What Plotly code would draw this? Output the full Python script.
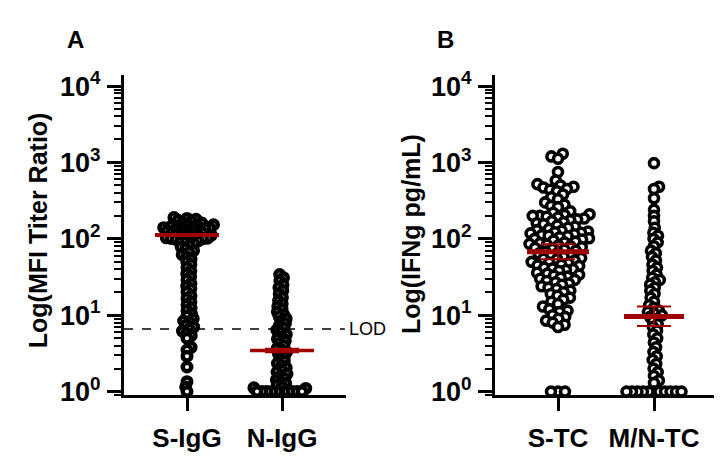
import numpy as np
import plotly.graph_objects as go

W, H = 722, 458

# ---------------- data ----------------
cats_a = ["S-IgG", "N-IgG"]
cats_b = ["S-TC", "M/N-TC"]

s_igg = [190, 185, 180, 175, 170, 165, 161, 157, 153, 150,
         148, 146, 144, 142, 140, 138, 136, 134, 132, 130, 128, 126, 124, 122, 120,
         118, 116, 114, 112, 110, 108, 106, 104, 103, 102, 101, 100,
         98, 96, 94, 92, 90,
         86, 82, 78, 74, 70, 66, 62, 58, 54, 50, 46, 42,
         38, 35, 32, 29, 26, 24, 22, 20, 18, 16.5, 15, 13.7, 12.5, 11.5, 10.5, 9.8,
         9.0, 8.4, 8.0, 7.4, 7.0, 6.6, 6.2, 5.8, 5.4, 5.0, 3.8, 3.5, 2.9, 2.1, 1.35,
         1.15, 1.0]

n_igg = [34, 31, 28, 25, 23, 21, 19, 17, 15.5, 14, 13, 12, 11, 10.3, 9.6, 9.0, 8.4,
         7.8, 7.3, 6.8, 6.4, 6.0, 5.6, 5.2, 4.9, 4.6, 4.3, 4.0, 3.7, 3.5, 3.3, 3.1,
         2.9, 2.7, 2.5, 2.35, 2.2, 2.05, 1.9, 1.8, 1.7, 1.6, 1.5, 1.42, 1.35, 1.28,
         1.22, 1.16, 1.12, 1.1,
         1, 1, 1, 1, 1, 1, 1, 1, 1, 1]

s_tc = [1300, 1200, 1120, 750,
        580, 520, 500, 480, 470, 450, 440, 420,
        380, 350, 330, 300, 280, 270, 260,
        230, 220, 210, 205, 200, 200, 195, 190, 185, 180, 175, 170, 165, 160, 155, 150,
        145, 140, 135, 130, 128, 125, 122, 120, 118, 115, 112, 110, 108, 105, 102, 100,
        98, 95, 92, 90, 88, 86, 84, 82, 80, 78, 76, 74, 72, 70, 68, 66, 64, 62, 60,
        58, 56, 55, 54, 52, 50, 49, 48, 46, 45, 44, 42, 41, 40, 39, 38, 36, 35, 34,
        33, 32, 31, 30, 29, 28, 27, 26, 25, 24, 23, 22, 21, 20,
        19, 18, 17, 16, 15, 14, 13, 12, 11.5, 11,
        10, 9.5, 9, 8.5, 8, 7.5, 7,
        1, 1, 1]

mn_tc = [980, 480, 450, 340, 240, 200, 170, 140, 120, 110, 100, 90, 80, 70, 65, 58,
         52, 46, 42, 38, 34, 31, 29, 27, 25, 23, 21, 19, 17, 15, 13.5, 12.5, 11.5, 11,
         10.5, 10, 9.5, 9, 8.3, 7.6, 7.0, 6.3, 5.6, 5.0, 4.4, 3.8, 3.3, 2.9, 2.6, 2.3,
         2.0, 1.8, 1.6, 1.4, 1.3,
         1, 1, 1, 1, 1, 1, 1, 1, 1, 1, 1]

# summary lines: centre, lower, upper
sum_a = {"S-IgG": (112, 110, 114), "N-IgG": (3.45, 3.27, 3.65)}
sum_b = {"S-TC": (68, 54, 85), "M/N-TC": (9.6, 7.2, 13)}
lod_value = 6.6

ytick_vals = [1, 10, 100, 1000, 10000]
ytick_text = ["10<sup>0</sup>", "10<sup>1</sup>", "10<sup>2</sup>", "10<sup>3</sup>", "10<sup>4</sup>"]

# ---------------- layout geometry (pixels) ----------------
PPD = 79.5            # pixels per decade
Y_TOP, Y_BOT = 62, 396
A_L, A_R, A_C0, A_SP = 116, 338, 179, 95
B_L, B_R, B_C0, B_SP = 487, 708, 550, 96
yr = [-(Y_BOT - 392) / PPD, 4 + (74 - Y_TOP) / PPD]


def swarm(vals, d):
    ys = np.log10(np.asarray(vals, float)) * PPD
    order = np.argsort(ys, kind="stable")
    placed = []
    xs = np.zeros(len(ys))
    for k, i in enumerate(order):
        y = ys[i]
        near = [(px, py) for px, py in placed if abs(py - y) < d]
        cands = [0.0]
        for px, py in near:
            dx = np.sqrt(d * d - (py - y) ** 2)
            cands += [px + dx, px - dx]
        sgn = 1 if k % 2 == 0 else -1
        cands.sort(key=lambda c: (round(abs(c), 3), -sgn * c))
        x = 0.0
        for c in cands:
            if all((c - px) ** 2 + (y - py) ** 2 >= d * d - 1e-6 for px, py in near):
                x = c
                break
        placed.append((x, y))
        xs[i] = x
    return xs


FONT = "Liberation Sans, Arial, sans-serif"
RED = "#A00000"
fig = go.Figure()


def add_group(vals, pos, sp, d, xa, ya, msize, lw):
    off = swarm(vals, d) / sp
    fig.add_trace(go.Scatter(
        x=pos + off, y=vals, mode="markers", xaxis=xa, yaxis=ya,
        cliponaxis=False, showlegend=False, hoverinfo="skip",
        marker=dict(symbol="circle", size=msize, color="white",
                    line=dict(color="black", width=lw))))


def add_summary(stats, pos, sp, xa, ya, half_px, lw):
    c, lo, hi = stats
    hw = half_px / sp
    fig.add_trace(go.Scatter(
        x=[pos], y=[c], mode="markers", xaxis=xa, yaxis=ya, cliponaxis=False,
        showlegend=False, hoverinfo="skip", marker=dict(size=0.1, color=RED),
        error_y=dict(type="data", symmetric=False, array=[hi - c], arrayminus=[c - lo],
                     color=RED, thickness=2, width=17)))
    fig.add_trace(go.Scatter(
        x=[pos - hw, pos + hw], y=[c, c], mode="lines", xaxis=xa, yaxis=ya,
        cliponaxis=False, showlegend=False, hoverinfo="skip",
        line=dict(color=RED, width=lw)))


add_group(s_igg, 0, A_SP, 5.0, "x", "y", 8.5, 4.5)
add_group(n_igg, 1, A_SP, 5.0, "x", "y", 8.5, 4.5)
add_group(s_tc, 0, B_SP, 7.0, "x2", "y2", 9, 3.6)
add_group(mn_tc, 1, B_SP, 5.5, "x2", "y2", 9, 3.6)

add_summary(sum_a["S-IgG"], 0, A_SP, "x", "y", 32, 4)
add_summary(sum_a["N-IgG"], 1, A_SP, "x", "y", 32, 3.5)
add_summary(sum_b["S-TC"], 0, B_SP, "x2", "y2", 31, 5)
add_summary(sum_b["M/N-TC"], 1, B_SP, "x2", "y2", 30, 5)

tickfont = dict(family=FONT, size=26, color="black", weight="bold")
ytickfont = dict(family=FONT, size=27, color="black", weight="bold")


def xaxis(L, R, C0, SP, cats):
    return dict(domain=[L / W, R / W], range=[(L - C0) / SP, (R - C0) / SP],
                tickvals=[0, 1], ticktext=cats, ticks="outside", ticklen=13,
                tickwidth=3, tickcolor="black", showline=True, linewidth=3,
                linecolor="black", showgrid=False, zeroline=False, tickfont=tickfont,
                ticklabelstandoff=4, fixedrange=True)


def yaxis(anchor):
    return dict(type="log", domain=[1 - Y_BOT / H, 1 - Y_TOP / H], range=yr,
                tickvals=ytick_vals, ticktext=ytick_text, ticks="outside", ticklen=14,
                tickwidth=3, tickcolor="black", showline=True, linewidth=3,
                linecolor="black", showgrid=False, zeroline=False, tickfont=ytickfont,
                anchor=anchor, ticklabelstandoff=1,
                minor=dict(ticks="outside", ticklen=7, tickwidth=2, tickcolor="black",
                           dtick="D1", showgrid=False),
                fixedrange=True)


fig.update_layout(
    width=W, height=H, margin=dict(l=0, r=0, t=0, b=0),
    paper_bgcolor="white", plot_bgcolor="white",
    xaxis=xaxis(A_L, A_R, A_C0, A_SP, cats_a), yaxis=yaxis("x"),
    xaxis2=xaxis(B_L, B_R, B_C0, B_SP, cats_b), yaxis2=yaxis("x2"),
)
fig.layout.xaxis.anchor = "y"
fig.layout.xaxis2.anchor = "y2"

# LOD line
fig.add_shape(type="line", xref="x domain", yref="y", x0=0, x1=0.995,
              y0=lod_value, y1=lod_value, line=dict(color="black", width=1.5, dash="dash"))
fig.add_annotation(xref="x domain", yref="y", x=1.0, y=np.log10(lod_value), text="LOD",
                   showarrow=False, xanchor="left", yanchor="middle", xshift=1,
                   font=dict(family=FONT, size=18, color="black"))


def ann(text, xp, yp, size, angle=0):
    fig.add_annotation(xref="paper", yref="paper", x=xp / W, y=1 - yp / H, text=text,
                       showarrow=False, textangle=angle, xanchor="center", yanchor="middle",
                       font=dict(family=FONT, size=size, color="black", weight="bold"))


ann("A", 67, 25, 24)
ann("B", 437, 25, 24)
ann("Log(MFI Titer Ratio)", 30, 224, 25, -90)
ann("Log(IFNg pg/mL)", 403, 228, 25, -90)

fig.write_html("out.html", config={"displayModeBar": False})
